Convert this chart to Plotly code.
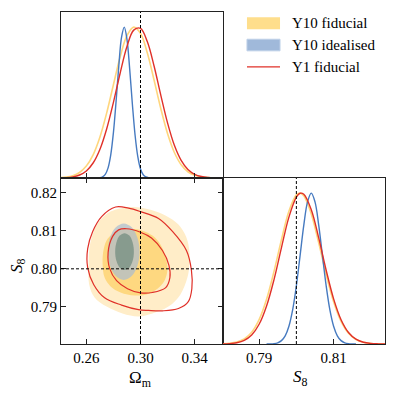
import plotly.graph_objects as go

# ---------------- data ----------------
omega_fid = 0.30
s8_fid = 0.80

# 1D marginal of Omega_m (normalised to peak = 1)
om_x = [0.240, 0.245, 0.250, 0.255, 0.260, 0.265, 0.270, 0.275, 0.280, 0.285, 0.290, 0.295,
        0.300, 0.305, 0.310, 0.315, 0.320, 0.325, 0.330, 0.335, 0.340, 0.345, 0.350, 0.355, 0.360]
om_y10_fid = [0.0020, 0.0058, 0.0153, 0.0365, 0.0787, 0.153, 0.270, 0.430, 0.618, 0.803, 0.943, 1.000,
              0.958, 0.830, 0.649, 0.459, 0.293, 0.169, 0.0881, 0.0415, 0.0177, 0.0068, 0.0024, 0.0007, 0.0002]
om_y1_fid = [0.0008, 0.0026, 0.0076, 0.0199, 0.0469, 0.0993, 0.189, 0.325, 0.501, 0.696, 0.871, 0.980,
             0.992, 0.904, 0.742, 0.548, 0.364, 0.217, 0.117, 0.0566, 0.0247, 0.0097, 0.0034, 0.0011, 0.0003]
om_ideal_x = [0.266, 0.268, 0.270, 0.272, 0.274, 0.276, 0.278, 0.280, 0.282, 0.284, 0.286, 0.288,
              0.290, 0.292, 0.294, 0.296, 0.298, 0.300, 0.302, 0.304, 0.306, 0.308, 0.310]
om_y10_ideal = [0.0001, 0.0005, 0.0021, 0.0077, 0.0244, 0.0657, 0.152, 0.301, 0.512, 0.746, 0.933, 1.000,
                0.919, 0.724, 0.489, 0.283, 0.141, 0.0599, 0.0219, 0.0069, 0.0018, 0.0004, 0.0001]

# 1D marginal of S8
s8_x = [0.780, 0.782, 0.784, 0.786, 0.788, 0.790, 0.792, 0.794, 0.796, 0.798, 0.800, 0.801,
        0.802, 0.804, 0.806, 0.808, 0.810, 0.812, 0.814, 0.816, 0.818, 0.820, 0.822, 0.824]
s8_y10_fid = [0.0012, 0.0041, 0.0123, 0.0328, 0.0772, 0.161, 0.296, 0.481, 0.691, 0.879, 0.988, 1.000,
              0.982, 0.862, 0.670, 0.460, 0.280, 0.150, 0.0713, 0.0299, 0.0111, 0.0036, 0.0010, 0.0003]
s8_y1_fid = [0.0007, 0.0026, 0.0085, 0.0239, 0.0596, 0.1306, 0.252, 0.427, 0.639, 0.841, 0.973, 0.999,
             0.992, 0.890, 0.703, 0.489, 0.299, 0.161, 0.0764, 0.0319, 0.0117, 0.0038, 0.0011, 0.0003]
s8_ideal_x = [0.792, 0.793, 0.794, 0.795, 0.796, 0.797, 0.798, 0.799, 0.800, 0.801, 0.802, 0.803, 0.804,
              0.805, 0.806, 0.807, 0.808, 0.809, 0.810, 0.811, 0.812, 0.813, 0.814, 0.815, 0.816]
s8_y10_ideal = [0.0002, 0.0008, 0.0026, 0.0081, 0.0223, 0.0543, 0.1176, 0.226, 0.386, 0.586, 0.788, 0.942, 1.000,
                0.942, 0.788, 0.586, 0.386, 0.226, 0.1176, 0.0543, 0.0223, 0.0081, 0.0026, 0.0008, 0.0002]

# 2D contours (Omega_m, S8)
y10_fid_outer_om = [0.2948, 0.3074, 0.3184, 0.3280, 0.3339, 0.3361, 0.3361, 0.3346, 0.3295, 0.3206, 0.3088,
                    0.2985, 0.2867, 0.2750, 0.2661, 0.2621, 0.2617, 0.2624, 0.2654, 0.2705, 0.2779, 0.2860, 0.2948]
y10_fid_outer_s8 = [0.8162, 0.8155, 0.8140, 0.8116, 0.8082, 0.8045, 0.8011, 0.7977, 0.7933, 0.7901, 0.7883,
                    0.7875, 0.7883, 0.7901, 0.7925, 0.7959, 0.8009, 0.8056, 0.8098, 0.8129, 0.8150, 0.8159, 0.8162]
y10_fid_inner_om = [0.2926, 0.3015, 0.3088, 0.3147, 0.3184, 0.3199, 0.3177, 0.3125, 0.3044, 0.2956, 0.2853,
                    0.2779, 0.2735, 0.2720, 0.2728, 0.2757, 0.2831, 0.2926]
y10_fid_inner_s8 = [0.8105, 0.8100, 0.8087, 0.8064, 0.8032, 0.7998, 0.7969, 0.7948, 0.7933, 0.7930, 0.7938,
                    0.7954, 0.7977, 0.8014, 0.8051, 0.8079, 0.8100, 0.8105]
y10_ideal_outer_om = [0.2993, 0.2977, 0.2935, 0.2876, 0.2818, 0.2775, 0.2759, 0.2775, 0.2818, 0.2876, 0.2935, 0.2977, 0.2993]
y10_ideal_outer_s8 = [0.8045, 0.8082, 0.8109, 0.8119, 0.8109, 0.8082, 0.8045, 0.8008, 0.7981, 0.7971, 0.7981, 0.8008, 0.8045]
y10_ideal_inner_om = [0.2951, 0.2942, 0.2917, 0.2882, 0.2847, 0.2822, 0.2813, 0.2822, 0.2847, 0.2882, 0.2917, 0.2942, 0.2951]
y10_ideal_inner_s8 = [0.8045, 0.8069, 0.8087, 0.8093, 0.8087, 0.8069, 0.8045, 0.8021, 0.8003, 0.7997, 0.8003, 0.8021, 0.8045]
y1_fid_outer_om = [0.2816, 0.2912, 0.3000, 0.3133, 0.3236, 0.3339, 0.3376, 0.3379, 0.3353, 0.3280, 0.3162,
                   0.3059, 0.2985, 0.2860, 0.2735, 0.2654, 0.2610, 0.2610, 0.2647, 0.2713, 0.2816]
y1_fid_outer_s8 = [0.8162, 0.8159, 0.8150, 0.8132, 0.8098, 0.8048, 0.7996, 0.7948, 0.7914, 0.7896, 0.7890,
                   0.7891, 0.7893, 0.7905, 0.7924, 0.7959, 0.8003, 0.8053, 0.8098, 0.8137, 0.8162]
y1_fid_inner_om = [0.2897, 0.3000, 0.3081, 0.3162, 0.3210, 0.3217, 0.3184, 0.3088, 0.3000, 0.2904, 0.2823,
                   0.2772, 0.2761, 0.2794, 0.2838, 0.2897]
y1_fid_inner_s8 = [0.8105, 0.8096, 0.8081, 0.8048, 0.8009, 0.7977, 0.7950, 0.7938, 0.7937, 0.7948, 0.7969,
                   0.8001, 0.8043, 0.8085, 0.8102, 0.8105]

series_names = ["Y10 fiducial", "Y10 idealised", "Y1 fiducial"]
om_ticks = [0.26, 0.30, 0.34]
s8_ticks_y = [0.79, 0.80, 0.81, 0.82]
s8_ticks_x = [0.79, 0.81]

# ---------------- styles ----------------
ORANGE_LINE = "rgb(255,214,125)"
ORANGE_OUT = "rgb(255,237,200)"
ORANGE_IN = "rgb(254,216,128)"
BLUE_LINE = "rgb(70,122,192)"
BLUE_OUT = "rgba(170,188,208,0.70)"
BLUE_IN = "rgba(112,138,126,0.72)"
RED = "rgb(224,48,40)"
FONT = "Liberation Serif"

om_range = [0.2413, 0.3609]
s8_range = [0.7803, 0.8238]
dens_range = [0, 1.1]

fig = go.Figure()

def line(x, y, color, w, xa, ya):
    fig.add_trace(go.Scatter(x=x, y=y, mode="lines", xaxis=xa, yaxis=ya, hoverinfo="skip",
                             line=dict(color=color, width=w, shape="spline", smoothing=1.0)))

def fill(x, y, color, xa, ya):
    fig.add_trace(go.Scatter(x=x, y=y, mode="lines", fill="toself", fillcolor=color, xaxis=xa, yaxis=ya,
                             hoverinfo="skip", line=dict(color=color, width=0, shape="spline", smoothing=1.0)))

# top-left: Omega_m marginal
line(om_x, om_y10_fid, ORANGE_LINE, 1.6, "x", "y")
line(om_ideal_x, om_y10_ideal, BLUE_LINE, 1.4, "x", "y")
line(om_x, om_y1_fid, RED, 1.4, "x", "y")

# bottom-left: 2D
fill(y10_fid_outer_om, y10_fid_outer_s8, ORANGE_OUT, "x2", "y2")
fill(y10_fid_inner_om, y10_fid_inner_s8, ORANGE_IN, "x2", "y2")
fill(y10_ideal_outer_om, y10_ideal_outer_s8, BLUE_OUT, "x2", "y2")
fill(y10_ideal_inner_om, y10_ideal_inner_s8, BLUE_IN, "x2", "y2")
line(y1_fid_outer_om, y1_fid_outer_s8, RED, 1.2, "x2", "y2")
line(y1_fid_inner_om, y1_fid_inner_s8, RED, 1.2, "x2", "y2")

# bottom-right: S8 marginal
line(s8_x, s8_y10_fid, ORANGE_LINE, 1.6, "x3", "y3")
line(s8_ideal_x, s8_y10_ideal, BLUE_LINE, 1.4, "x3", "y3")
line(s8_x, s8_y1_fid, RED, 1.4, "x3", "y3")

ax_common = dict(showgrid=False, zeroline=False, showline=True, linecolor="#222", linewidth=1,
                 ticks="inside", ticklen=5, tickwidth=1, tickcolor="#222",
                 tickfont=dict(family=FONT, size=15, color="black"))

# the page body has an 8px margin, so the figure is sized/offset to compensate
fig.update_layout(
    width=389, height=389,
    margin=dict(l=53, r=12, t=4, b=53),
    plot_bgcolor="white", paper_bgcolor="white",
    showlegend=False,
    font=dict(family=FONT, size=15, color="black"),
    xaxis=dict(domain=[0, 0.5], anchor="y", range=om_range, tickvals=om_ticks, showticklabels=False,
               mirror=True, **ax_common),
    yaxis=dict(domain=[0.5, 1], anchor="x", range=dens_range, showticklabels=False,
               **{**ax_common, "ticks": ""}, mirror=True),
    xaxis2=dict(domain=[0, 0.5], anchor="y2", range=om_range, tickvals=om_ticks, tickformat=".2f",
                mirror="ticks", **ax_common),
    yaxis2=dict(domain=[0, 0.5], anchor="x2", range=s8_range, tickvals=s8_ticks_y, tickformat=".2f",
                mirror="ticks", **ax_common),
    xaxis3=dict(domain=[0.5, 1], anchor="y3", range=s8_range, tickvals=s8_ticks_x, tickformat=".2f",
                mirror=True, **ax_common),
    yaxis3=dict(domain=[0, 0.5], anchor="x3", range=dens_range, showticklabels=False,
                **{**ax_common, "ticks": ""}, mirror=True),
)

dash = dict(color="black", width=1, dash="3px,2px")
fig.add_shape(type="line", xref="x", yref="y domain", x0=omega_fid, x1=omega_fid, y0=0, y1=1, line=dash, layer="above")
fig.add_shape(type="line", xref="x2", yref="y2 domain", x0=omega_fid, x1=omega_fid, y0=0, y1=1, line=dash, layer="above")
fig.add_shape(type="line", xref="x2 domain", yref="y2", x0=0, x1=1, y0=s8_fid, y1=s8_fid, line=dash, layer="above")
fig.add_shape(type="line", xref="x3", yref="y3 domain", x0=s8_fid, x1=s8_fid, y0=0, y1=1, line=dash, layer="above")

# legend (manual)
fig.add_shape(type="rect", xref="paper", yref="paper", x0=0.574, x1=0.676, y0=0.948, y1=0.984,
              fillcolor="rgb(254,222,140)", line=dict(width=0))
fig.add_shape(type="rect", xref="paper", yref="paper", x0=0.574, x1=0.676, y0=0.883, y1=0.918,
              fillcolor="rgb(160,185,218)", line=dict(color="rgb(190,208,232)", width=1))
fig.add_shape(type="line", xref="paper", yref="paper", x0=0.574, x1=0.676, y0=0.835, y1=0.835,
              line=dict(color=RED, width=1.2))
for name, yy in zip(series_names, [0.966, 0.901, 0.835]):
    fig.add_annotation(text=name, xref="paper", yref="paper", x=0.708, y=yy, xanchor="left", yanchor="middle",
                       showarrow=False, font=dict(family=FONT, size=15, color="black"))

# axis titles
fig.add_annotation(text="Ω<sub>m</sub>", xref="paper", yref="paper", x=0.244, y=-0.105, xanchor="center",
                   yanchor="middle", showarrow=False, font=dict(family=FONT, size=17, color="black"))
fig.add_annotation(text="<i>S</i><sub>8</sub>", xref="paper", yref="paper", x=0.738, y=-0.102, xanchor="center",
                   yanchor="middle", showarrow=False, font=dict(family=FONT, size=17, color="black"))
fig.add_annotation(text="<i>S</i><sub>8</sub>", xref="paper", yref="paper", x=-0.133, y=0.238, xanchor="center",
                   yanchor="middle", textangle=-90, showarrow=False, font=dict(family=FONT, size=17, color="black"))

fig.write_html("out.html")
